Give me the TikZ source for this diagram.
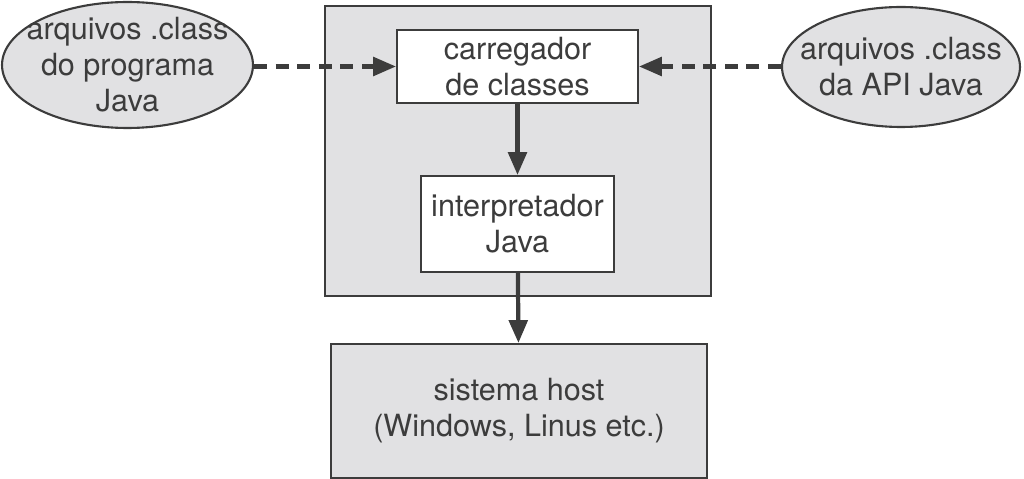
\documentclass[tikz,border=0pt]{standalone}
\usepackage{fontspec}
\setmainfont{TeX Gyre Heros}
\usepackage{tikz}
\usetikzlibrary{arrows.meta,positioning,shapes.geometric}
\definecolor{boxgray}{HTML}{E1E1E3}
\definecolor{linegray}{HTML}{3C3C3C}

\begin{document}
\begin{tikzpicture}[x=0.02cm,y=-0.02cm,
   font=\fontsize{17.4}{20.5}\selectfont,text=linegray,
   bx/.style={draw=linegray,line width=1.2pt,align=center,inner sep=0pt},
   el/.style={ellipse,draw=linegray,line width=1.2pt,fill=boxgray,align=center,
              inner xsep=-1.5cm,inner ysep=-0.5cm},
   flow/.style={draw=linegray,line width=2.4pt,-{Triangle[length=13pt,width=10.5pt]}},
   load/.style={flow,dash pattern=on 7.4pt off 4.9pt}]
  \useasboundingbox (0,0) rectangle (1024,479);
  \node[bx,fill=boxgray,minimum width=7.72cm,minimum height=5.8cm] (jvm) at (518,151) {};
  \node[bx,fill=white,minimum width=4.82cm,minimum height=1.46cm] (loader) at (517.5,66.5) {carregador\\de classes};
  \node[bx,fill=white,minimum width=3.86cm,minimum height=1.92cm] (interp) at (517.5,224) {interpretador\\Java};
  \node[bx,fill=boxgray,minimum width=7.52cm,minimum height=2.68cm] (host) at (519,411) {sistema host\\(Windows, Linus etc.)};
  \node[el,minimum width=5.02cm,minimum height=2.52cm] (prog) at (127.5,65) {arquivos .class\\do programa\\Java};
  \node[el,minimum width=4.76cm,minimum height=2.4cm] (api) at (901,67) {arquivos .class\\da API Java};
  % ligacoes
  \draw[load] (prog.east |- loader.west) -- (loader.west);
  \draw[load] (api.west |- loader.east) -- (loader.east);
  \draw[flow] (loader) -- (interp);
  \draw[flow] (interp) -- (host);
\end{tikzpicture}
\end{document}
